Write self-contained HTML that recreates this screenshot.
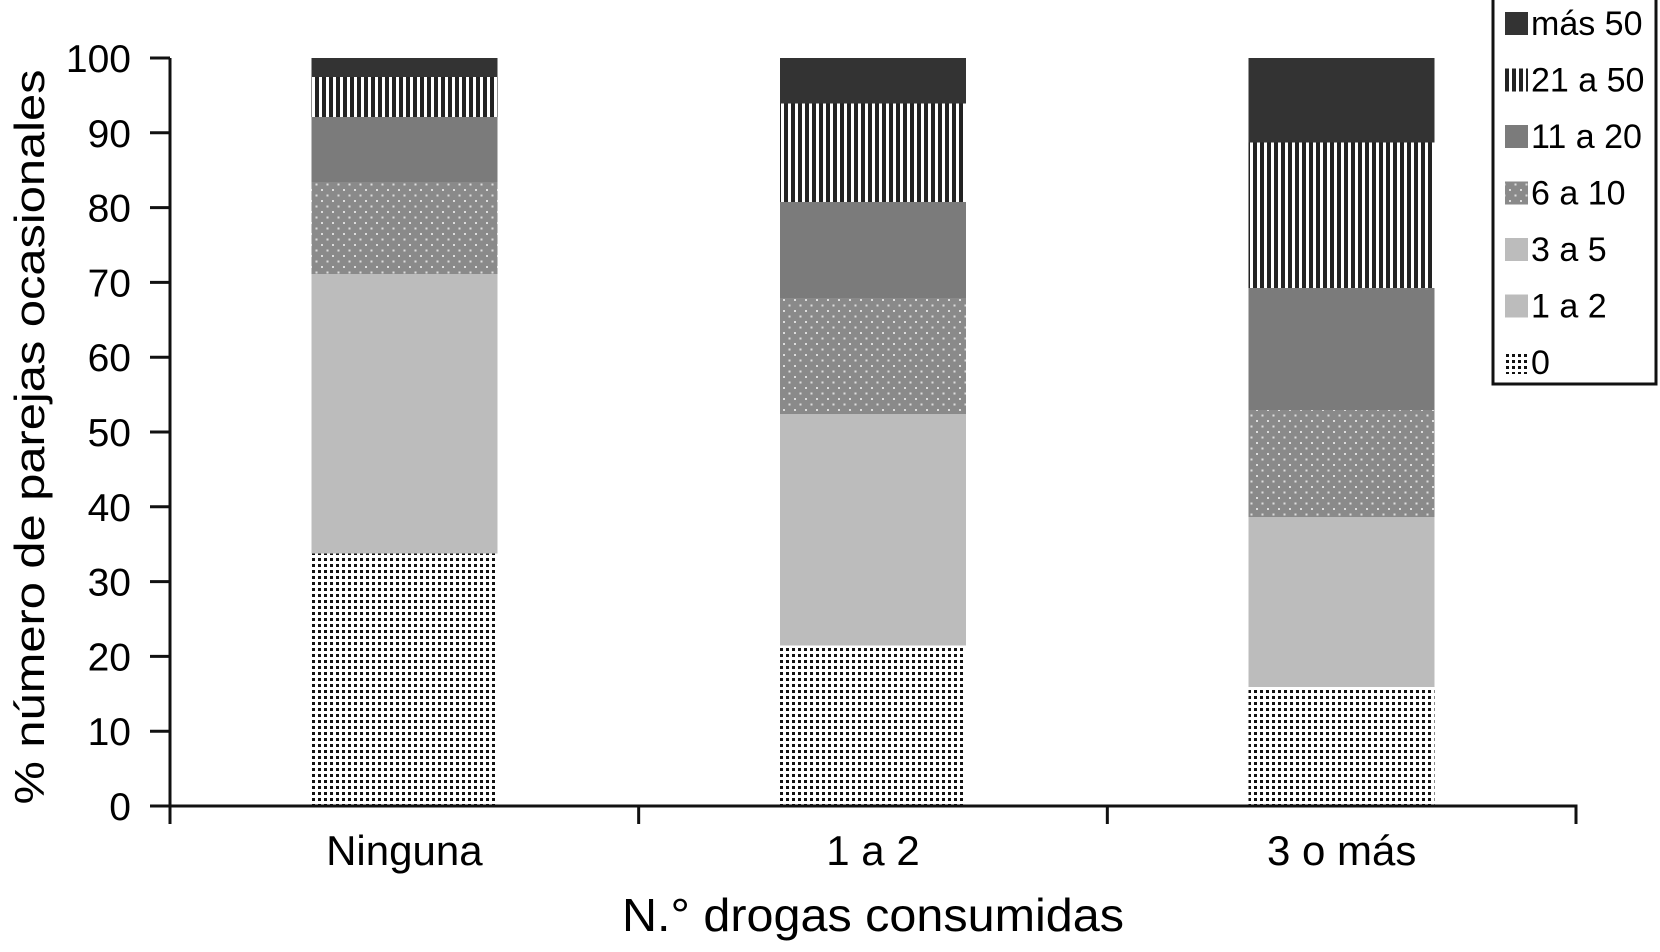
<!DOCTYPE html>
<html><head><meta charset="utf-8"><style>
html,body{margin:0;padding:0;background:#fff;}
svg{display:block;font-family:"Liberation Sans",Arial,sans-serif;}
</style></head><body>
<svg id="chart" width="1660" height="952" viewBox="0 0 1660 952">
<defs>
<pattern id="p-zero" width="6" height="6" patternUnits="userSpaceOnUse"><rect width="6" height="6" fill="#fff"/><rect width="3" height="3" fill="#111"/></pattern>
<pattern id="p-6a10" width="11" height="11" patternUnits="userSpaceOnUse"><rect width="11" height="11" fill="#8a8a8a"/><rect x="2" y="2" width="2" height="2" fill="#ddd"/><rect x="7.5" y="7.5" width="2" height="2" fill="#ddd"/></pattern>
<pattern id="p-21a50" width="7" height="7" patternUnits="userSpaceOnUse"><rect width="7" height="7" fill="#fff"/><rect width="4" height="7" fill="#222"/></pattern>
</defs>
<g id="bars" shape-rendering="crispEdges"></g>
<g id="axes"></g>
<text transform="translate(44,437) rotate(-90)" text-anchor="middle" font-size="42" textLength="735" lengthAdjust="spacingAndGlyphs">% número de parejas ocasionales</text>
<text x="873" y="931" text-anchor="middle" font-size="46" textLength="502" lengthAdjust="spacingAndGlyphs">N.° drogas consumidas</text>
<g id="legend">
<rect x="1493" y="-2" width="163" height="386" fill="#fff" stroke="#111" stroke-width="3"/>
</g>
</svg>
<script>
const categories = ["Ninguna", "1 a 2", "3 o más"];
const seriesNames = ["0", "1 a 2", "3 a 5", "6 a 10", "11 a 20", "21 a 50", "más 50"];
const s0 = [33.8, 21.5, 16.0];
const s1a2 = [18.7, 15.5, 11.4];
const s3a5 = [18.7, 15.5, 11.3];
const s6a10 = [12.3, 15.5, 14.3];
const s11a20 = [8.7, 12.8, 16.3];
const s21a50 = [5.3, 13.2, 19.5];
const smas50 = [2.5, 6.0, 11.2];
const yTicks = [0, 10, 20, 30, 40, 50, 60, 70, 80, 90, 100];

const NS = "http://www.w3.org/2000/svg";
const fills = ["url(#p-zero)", "#bcbcbc", "#bcbcbc", "url(#p-6a10)", "#7b7b7b", "url(#p-21a50)", "#333"];
const series = [s0, s1a2, s3a5, s6a10, s11a20, s21a50, smas50];
const x0 = 170, x1 = 1576, yBase = 806, yTop = 58;
const y = v => yBase - (v / 100) * (yBase - yTop);
const band = (x1 - x0) / categories.length;
const xc = i => x0 + band * (i + 0.5);
const barW = 186;
function mk(tag, attrs, parent) {
  const e = document.createElementNS(NS, tag);
  for (const k in attrs) e.setAttribute(k, attrs[k]);
  parent.appendChild(e);
  return e;
}
const bars = document.getElementById("bars");
categories.forEach((c, i) => {
  let cum = 0;
  series.forEach((s, j) => {
    const v = s[i];
    const r = mk("rect", {x: xc(i) - barW / 2, y: y(cum + v), width: barW, height: y(cum) - y(cum + v) + 0.5, fill: fills[j]}, bars);
    
    
    cum += v;
  });
});
const axes = document.getElementById("axes");
const yl = mk("line", {x1: x0, y1: yTop, x2: x0, y2: yBase + 1.5, stroke: "#111", "stroke-width": 3}, axes);


const xl = mk("line", {x1: x0 - 1.5, y1: yBase, x2: x1 + 1.5, y2: yBase, stroke: "#111", "stroke-width": 3}, axes);


yTicks.forEach(t => {
  const tk = mk("line", {x1: x0 - 20, y1: y(t), x2: x0, y2: y(t), stroke: "#111", "stroke-width": 3}, axes);
  
  
  const tl = mk("text", {x: 131, y: y(t) + 14, "text-anchor": "end", "font-size": 39}, axes);
  tl.textContent = String(t);
  
  
});
for (let i = 0; i <= categories.length; i++) {
  const tk = mk("line", {x1: x0 + band * i, y1: yBase, x2: x0 + band * i, y2: yBase + 18, stroke: "#111", "stroke-width": 3}, axes);
  
  
}
categories.forEach((c, i) => {
  const tl = mk("text", {x: xc(i), y: 865, "text-anchor": "middle", "font-size": 42}, axes);
  tl.textContent = c;
  
  
});
const legend = document.getElementById("legend");
const legOrder = [6, 5, 4, 3, 2, 1, 0];
legOrder.forEach((j, k) => {
  const cy = 23 + k * 56.5;
  const g = mk("g", {}, legend);
  
  
  mk("rect", {x: 1505, y: cy - 11, width: 23, height: 23, fill: fills[j]}, g);
  const t = mk("text", {x: 1531, y: cy + 12, "font-size": 34}, g);
  t.textContent = seriesNames[j];
});
</script>
</body></html>
